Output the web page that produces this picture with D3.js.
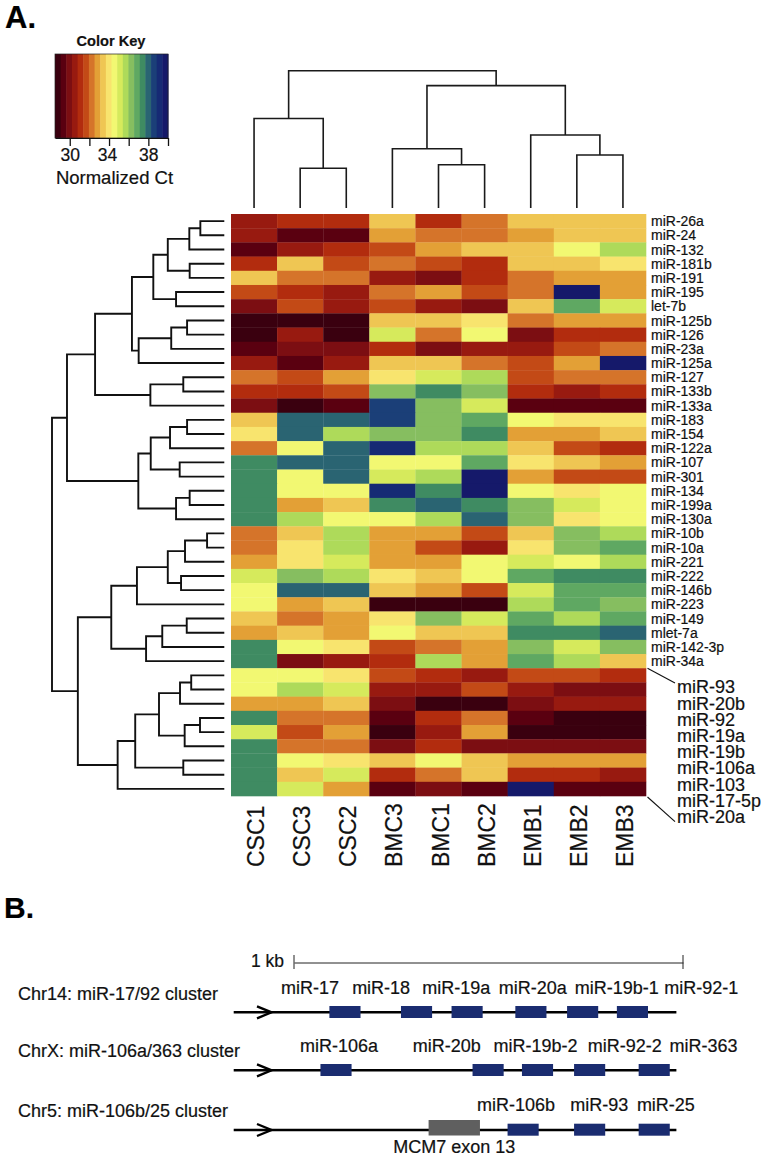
<!DOCTYPE html>
<html>
<head>
<meta charset="utf-8">
<script src="https://cdn.jsdelivr.net/npm/d3@7"></script>
<style>
html, body { margin: 0; padding: 0; background: #fff; }
svg { display: block; }
text { font-family: "Liberation Sans", Arial, sans-serif; fill: #111; stroke: #111; stroke-width: 0.2px; }
</style>
</head>
<body>
<div id="chart"></div>
<script>
var colNames = ["CSC1", "CSC3", "CSC2", "BMC3", "BMC1", "BMC2", "EMB1", "EMB2", "EMB3"];
var rowNames = ["miR-26a", "miR-24", "miR-132", "miR-181b", "miR-191", "miR-195", "let-7b", "miR-125b", "miR-126", "miR-23a",
    "miR-125a", "miR-127", "miR-133b", "miR-133a", "miR-183", "miR-154", "miR-122a", "miR-107", "miR-301", "miR-134",
    "miR-199a", "miR-130a", "miR-10b", "miR-10a", "miR-221", "miR-222", "miR-146b", "miR-223", "miR-149", "mlet-7a",
    "miR-142-3p", "miR-34a"];
var bigRowNames = ["miR-93", "miR-20b", "miR-92", "miR-19a", "miR-19b", "miR-106a", "miR-103", "miR-17-5p", "miR-20a"];

// normalized Ct, one row per miRNA (41 rows, the small labels first and then the 9 big ones)
var ctValues = [
    [30.5, 31.1, 31.1, 33.4, 31.1, 32.2, 33.4, 33.4, 33.4],
    [30.5, 29.4, 29.4, 32.8, 32.2, 32.2, 32.8, 33.4, 33.4],
    [29.4, 30.5, 31.1, 31.7, 32.8, 33.4, 33.4, 34.5, 35.7],
    [31.1, 33.4, 31.7, 32.2, 31.7, 31.1, 33.4, 33.4, 34.0],
    [33.4, 32.2, 32.2, 30.5, 29.9, 31.1, 32.2, 32.8, 32.8],
    [31.7, 31.1, 30.5, 32.2, 32.8, 31.7, 32.2, 39.7, 32.8],
    [29.9, 31.7, 30.5, 31.7, 30.5, 29.9, 33.4, 36.8, 35.1],
    [28.8, 28.8, 28.8, 33.4, 33.4, 34.0, 32.2, 32.8, 32.8],
    [28.8, 30.5, 28.8, 35.1, 32.2, 34.5, 29.9, 31.1, 31.1],
    [29.4, 29.9, 29.9, 31.1, 29.9, 30.5, 30.5, 31.7, 32.2],
    [30.5, 29.4, 30.5, 33.4, 33.4, 32.2, 31.7, 32.8, 39.7],
    [32.2, 31.7, 32.8, 34.0, 35.1, 35.7, 31.7, 32.2, 32.2],
    [31.1, 31.1, 31.7, 36.3, 37.4, 36.3, 31.1, 30.5, 31.1],
    [29.9, 28.8, 29.4, 38.6, 36.3, 35.1, 29.4, 29.4, 29.4],
    [33.4, 38.0, 38.0, 38.6, 36.3, 36.8, 34.5, 34.0, 34.0],
    [34.0, 38.0, 35.7, 36.3, 36.3, 37.4, 32.8, 32.8, 33.4],
    [32.2, 34.5, 38.0, 39.1, 35.7, 35.7, 33.4, 31.7, 31.1],
    [37.4, 38.0, 38.0, 34.5, 34.5, 36.8, 34.0, 33.4, 32.8],
    [37.4, 34.5, 38.0, 35.1, 35.7, 39.7, 32.8, 31.7, 31.7],
    [37.4, 34.5, 34.5, 39.1, 37.4, 39.7, 34.5, 34.0, 34.5],
    [37.4, 32.8, 33.4, 37.4, 38.0, 37.4, 36.3, 35.1, 34.5],
    [37.4, 35.7, 34.5, 34.5, 35.7, 38.0, 36.3, 34.0, 34.5],
    [32.2, 33.4, 35.7, 32.8, 32.8, 31.7, 33.4, 36.3, 35.7],
    [32.2, 34.0, 35.7, 32.8, 31.7, 30.5, 34.0, 36.3, 36.8],
    [32.8, 34.0, 35.1, 32.8, 32.8, 34.5, 35.1, 34.5, 35.7],
    [35.1, 36.3, 35.7, 34.0, 33.4, 34.5, 36.8, 37.4, 37.4],
    [34.5, 38.0, 38.0, 33.4, 32.8, 31.7, 35.1, 36.8, 36.8],
    [34.5, 32.8, 33.4, 28.8, 28.8, 28.8, 35.7, 36.8, 36.3],
    [33.4, 32.2, 32.8, 34.0, 36.3, 35.1, 36.8, 35.7, 36.8],
    [32.8, 33.4, 32.8, 34.5, 33.4, 33.4, 37.4, 37.4, 38.0],
    [37.4, 34.5, 34.0, 31.7, 32.2, 32.8, 36.3, 35.1, 36.3],
    [37.4, 29.9, 30.5, 31.1, 35.7, 32.8, 36.8, 35.7, 33.4],
    [34.5, 34.5, 34.0, 31.7, 31.1, 30.5, 31.7, 31.7, 31.1],
    [34.5, 35.7, 35.1, 30.5, 30.5, 31.7, 30.5, 29.9, 29.9],
    [32.8, 32.8, 33.4, 29.9, 28.8, 28.8, 29.9, 30.5, 30.5],
    [37.4, 32.2, 32.2, 29.4, 31.1, 32.2, 29.4, 28.8, 28.8],
    [35.1, 31.7, 32.8, 28.8, 30.5, 32.8, 28.8, 28.8, 28.8],
    [37.4, 32.2, 32.2, 29.9, 31.1, 29.9, 29.9, 29.9, 29.9],
    [37.4, 34.5, 34.0, 33.4, 34.5, 33.4, 32.8, 32.8, 32.8],
    [37.4, 33.4, 35.1, 31.1, 32.2, 33.4, 31.1, 31.1, 30.5],
    [37.4, 35.1, 32.8, 29.4, 29.9, 29.4, 39.7, 29.4, 29.4]
];

var keyColors = ["#3a000f", "#5a0010", "#7c0e12", "#981a10", "#b22c0e", "#c34a16", "#d5742a", "#e3a036", "#efc653", "#f8e46e",
    "#f2f872", "#d6ea5c", "#aeda5a", "#86be60", "#5fa862", "#3f8b62", "#2a6472", "#1b3f78", "#162a74", "#15196a"];
var keyDomain = [28.5, 40];
var keyTicks = [30, 32, 34, 36, 38, 40];
var keyTickLabels = [30, 34, 38];

// dendrograms: [height, left, right], a plain number is a leaf (column or row index)
var colTree = [100,
    [65.2, 0, [28.9, 1, 2]],
    [89.1, [43.2, 3, [31.5, 4, 5]], [53.2, 6, [38.6, 7, 8]]]
];
var rowTree = [100,
    [91.3,
        [75.0,
            [53.6,
                [41.2, [32.8, [20.3, [13.9, 0, 1], 2], [20.1, 3, 4]], [28.0, 5, 6]],
                [49.7, [30.8, [21.6, 7, 8], 9], 10]
            ],
            [42.9, [23.8, 11, 12], 13]
        ],
        [49.9,
            [42.7, [31.5, [21.6, 14, 15], 16], [25.9, 17, 18]],
            [28.0, [20.1, 19, 20], 21]
        ]
    ],
    [85.0,
        [65.6,
            [50.7, [32.8, [22.8, [10.0, 22, 23], 24], [25.1, 25, 26]], 27],
            [45.4, [36.0, [21.8, 28, 29], 30], 31]
        ],
        [61.9,
            [51.7, [37.9, [25.7, [19.2, 32, 33], 34], [23.0, [14.1, 35, 36], 37]], [23.8, 38, 39]],
            40
        ]
    ]
];

// panel B, positions in bp from the left end of the 1 kb bar
var clusterTitles = ["Chr14: miR-17/92 cluster", "ChrX: miR-106a/363 cluster", "Chr5: miR-106b/25 cluster"];
var clusterNames = [
    ["miR-17", "miR-18", "miR-19a", "miR-20a", "miR-19b-1", "miR-92-1"],
    ["miR-106a", "miR-20b", "miR-19b-2", "miR-92-2", "miR-363"],
    ["miR-106b", "miR-93", "miR-25"]
];
var clusterLabelBp = [
    [41, 224, 417, 614, 830, 1047],
    [116, 393, 621, 850, 1053],
    [571, 785, 956]
];
var clusterStartBp = [
    [91, 275, 405, 569, 702, 830],
    [68, 459, 586, 720, 886],
    [549, 720, 886]
];
var mirLengthBp = 80;
var locusBp = [-155, 983];
var exonBp = [346, 478];

var w = 768;
var h = 1158;

var svg = d3.select("#chart").append("svg")
    .attr("width", w)
    .attr("height", h);

svg.append("rect").attr("width", w).attr("height", h).attr("fill", "#fff");

svg.append("text").attr("x", 5).attr("y", 28)
    .attr("font-size", 31).attr("font-weight", "bold").style("fill", "#000").text("A.");

// color key
var keyX = d3.scaleLinear().domain(keyDomain).range([55, 168]);
var color = d3.scaleQuantize().domain(keyDomain).range(keyColors);
var key = svg.append("g");

key.selectAll("rect")
    .data(keyColors)
    .enter().append("rect")
    .attr("x", function(d) { return keyX(color.invertExtent(d)[0]); })
    .attr("y", 54)
    .attr("width", function(d) { return keyX(color.invertExtent(d)[1]) - keyX(color.invertExtent(d)[0]) + 0.5; })
    .attr("height", 84)
    .attr("fill", function(d) { return d; });

key.append("rect")
    .attr("x", 55).attr("y", 54).attr("width", 113).attr("height", 84)
    .attr("fill", "none").attr("stroke", "#222").attr("stroke-width", 0.7);

var keyAxis = key.append("g")
    .attr("transform", "translate(0,138)")
    .call(d3.axisBottom(keyX).tickValues(keyTicks).tickSize(8).tickSizeOuter(0)
        .tickFormat(function(d) { return keyTickLabels.indexOf(d) >= 0 ? d : ""; }));
keyAxis.select(".domain").attr("stroke", "#111").attr("stroke-width", 1.2);
keyAxis.selectAll("line").attr("stroke", "#111").attr("stroke-width", 1.3);
keyAxis.selectAll("text").attr("font-size", 17.5).attr("y", 11)
    .attr("dy", "0.71em")
    .attr("dx", function(d) { return d === 34 ? -2 : 0; })
    .style("font-family", '"Liberation Sans", Arial, sans-serif');

key.append("text").attr("x", 111).attr("y", 46).attr("text-anchor", "middle")
    .attr("font-size", 14.6).attr("font-weight", "bold").text("Color Key");
key.append("text").attr("x", 114.5).attr("y", 183.5).attr("text-anchor", "middle")
    .attr("font-size", 18.5).text("Normalized Ct");

// heatmap
var x = d3.scaleBand().domain(d3.range(colNames.length)).range([231, 646]);
var y = d3.scaleBand().domain(d3.range(ctValues.length)).range([214, 796]);

svg.append("g").selectAll("g")
    .data(ctValues)
    .enter().append("g")
    .selectAll("rect")
    .data(function(d, i) { return d.map(function(v, j) { return { row: i, col: j, v: v }; }); })
    .enter().append("rect")
    .attr("x", function(d) { return x(d.col); })
    .attr("y", function(d) { return y(d.row); })
    .attr("width", x.bandwidth() + 0.3)
    .attr("height", y.bandwidth() + 0.3)
    .attr("fill", function(d) { return color(d.v); });

// column labels
svg.append("g").selectAll("text")
    .data(colNames)
    .enter().append("text")
    .attr("transform", function(d, i) { return "translate(" + (x(i) + x.bandwidth() / 2 + 10) + ",867) rotate(-90)"; })
    .attr("font-size", 23)
    .text(function(d) { return d; });

// row labels
svg.append("g").selectAll("text")
    .data(rowNames)
    .enter().append("text")
    .attr("x", 651)
    .attr("y", function(d, i) { return y(i) + y.bandwidth() / 2; })
    .attr("dy", "0.36em")
    .attr("font-size", 14)
    .text(function(d) { return d; });

var bigY = d3.scaleLinear().domain([0, bigRowNames.length - 1]).range([687, 816.6]);
svg.append("g").selectAll("text")
    .data(bigRowNames)
    .enter().append("text")
    .attr("x", 677)
    .attr("y", function(d, i) { return bigY(i); })
    .attr("dy", "0.36em")
    .attr("font-size", 18)
    .text(function(d) { return d; });

var bigRowTop = y(rowNames.length);
var bigRowBottom = y(ctValues.length - 1) + y.bandwidth();
svg.append("g").selectAll("line")
    .data([[bigRowTop, bigY(0) - 4], [bigRowBottom + 1, bigY(bigRowNames.length - 1) + 5]])
    .enter().append("line")
    .attr("x1", 647.5).attr("x2", 675)
    .attr("y1", function(d) { return d[0]; })
    .attr("y2", function(d) { return d[1]; })
    .attr("stroke", "#111").attr("stroke-width", 1.1);

// dendrograms
function treeRoot(tree, leafPos) {
    var root = d3.hierarchy(tree, function(d) { return Array.isArray(d) ? d.slice(1) : null; });
    root.eachAfter(function(n) {
        if (n.children) {
            n.pos = (n.children[0].pos + n.children[1].pos) / 2;
            n.ht = n.data[0];
        } else {
            n.pos = leafPos(n.data);
            n.ht = 0;
        }
    });
    return root;
}

var colHeight = d3.scaleLinear().domain([0, 100]).range([208, 70.7]);
var colRoot = treeRoot(colTree, function(i) { return x(i) + x.bandwidth() / 2; });
var colLine = d3.line();
svg.append("g").selectAll("path")
    .data(colRoot.descendants().filter(function(n) { return n.children; }))
    .enter().append("path")
    .attr("fill", "none").attr("stroke", "#1a1a1a").attr("stroke-width", 1.6)
    .attr("d", function(n) {
        var a = n.children[0], b = n.children[1];
        return colLine([[a.pos, colHeight(a.ht)], [a.pos, colHeight(n.ht)], [b.pos, colHeight(n.ht)], [b.pos, colHeight(b.ht)]]);
    });

var rowHeight = d3.scaleLinear().domain([0, 100]).range([224.3, 52]);
var rowRoot = treeRoot(rowTree, function(i) { return y(i) + y.bandwidth() / 2; });
svg.append("g").selectAll("path")
    .data(rowRoot.descendants().filter(function(n) { return n.children; }))
    .enter().append("path")
    .attr("fill", "none").attr("stroke", "#111").attr("stroke-width", 1.9)
    .attr("d", function(n) {
        var a = n.children[0], b = n.children[1];
        return colLine([[rowHeight(a.ht), a.pos], [rowHeight(n.ht), a.pos], [rowHeight(n.ht), b.pos], [rowHeight(b.ht), b.pos]]);
    });

// panel B
svg.append("text").attr("x", 4).attr("y", 918)
    .attr("font-size", 30).attr("font-weight", "bold").style("fill", "#000").text("B.");

var bp = d3.scaleLinear().domain([0, 1000]).range([294, 683]);
var barAxis = svg.append("g")
    .attr("transform", "translate(0,962.5)")
    .call(d3.axisTop(bp).tickValues([]).tickSizeOuter(0));
barAxis.select(".domain").attr("stroke", "#222").attr("stroke-width", 1);
svg.append("g").selectAll("line")
    .data([0, 1000])
    .enter().append("line")
    .attr("x1", function(d) { return bp(d); })
    .attr("x2", function(d) { return bp(d); })
    .attr("y1", 955).attr("y2", 969)
    .attr("stroke", "#222").attr("stroke-width", 1);
svg.append("text").attr("x", 251).attr("y", 967).attr("font-size", 17.5).text("1 kb");

var rowLayout = d3.scaleOrdinal().domain(clusterTitles).range([
    { line: 1012.3, label: 994, title: 1000 },
    { line: 1070.3, label: 1051.7, title: 1057 },
    { line: 1130, label: 1110.7, title: 1117.3 }
]);

clusterTitles.forEach(function(title, k) {
    var pos = rowLayout(title);
    var g = svg.append("g");

    g.append("text").attr("x", 18).attr("y", pos.title).attr("font-size", 18).text(title);

    g.append("line")
        .attr("x1", bp(locusBp[0])).attr("x2", bp(locusBp[1]))
        .attr("y1", pos.line).attr("y2", pos.line)
        .attr("stroke", "#000").attr("stroke-width", 2.4);

    g.append("path")
        .attr("d", d3.line()([[257, pos.line - 6], [271.5, pos.line], [257, pos.line + 6]]))
        .attr("fill", "none").attr("stroke", "#000").attr("stroke-width", 2.4);

    if (k == 2) {
        g.append("rect")
            .attr("x", bp(exonBp[0])).attr("width", bp(exonBp[1]) - bp(exonBp[0]))
            .attr("y", pos.line - 10).attr("height", 15.5)
            .attr("fill", "#5f5f5f");
        g.append("text")
            .attr("x", bp(d3.mean(exonBp)))
            .attr("y", pos.line + 23.3)
            .attr("text-anchor", "middle")
            .attr("font-size", 18)
            .text("MCM7 exon 13");
    }

    g.selectAll("rect.mir")
        .data(clusterStartBp[k])
        .enter().append("rect")
        .attr("class", "mir")
        .attr("x", function(d) { return bp(d); })
        .attr("width", bp(mirLengthBp) - bp(0))
        .attr("y", pos.line - 6.3)
        .attr("height", 12)
        .attr("fill", "#1a2c70");

    g.selectAll("text.mirname")
        .data(clusterNames[k])
        .enter().append("text")
        .attr("class", "mirname")
        .attr("x", function(d, i) { return bp(clusterLabelBp[k][i]); })
        .attr("y", pos.label)
        .attr("text-anchor", "middle")
        .attr("font-size", 18)
        .text(function(d) { return d; });
});
</script>
</body>
</html>
